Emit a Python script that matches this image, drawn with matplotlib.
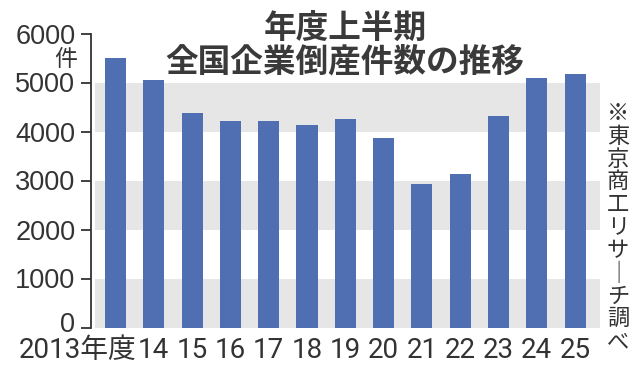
import matplotlib
matplotlib.use("Agg")
import matplotlib.pyplot as plt
import matplotlib.transforms as mtrans
from matplotlib import font_manager

years = ["2013年度", "14", "15", "16", "17", "18", "19", "20", "21", "22", "23", "24", "25"]
counts = [5505, 5050, 4386, 4215, 4221, 4124, 4256, 3858, 2937, 3141, 4324, 5095, 5172]
yticks = [0, 1000, 2000, 3000, 4000, 5000, 6000]
band_ranges = [(0, 1000), (2000, 3000), (4000, 5000)]
title_lines = ["年度上半期", "全国企業倒産件数の推移"]
unit_label = "件"
source_chars = ["※", "東", "京", "商", "工", "リ", "サ", "｜", "チ", "調", "べ"]

CJK = "Noto Sans CJK JP"

def has_font(name):
    try:
        font_manager.findfont(font_manager.FontProperties(family=name), fallback_to_default=False)
        return True
    except Exception:
        return False

narrow = "Liberation Sans Narrow" if has_font("Liberation Sans Narrow") else "Roboto"

W, H = 640, 376
fig = plt.figure(figsize=(W / 100, H / 100), dpi=100)
fig.patch.set_facecolor("white")

def fx(px):
    return px / W

def fy(py):
    return 1 - py / H

ax = fig.add_axes([fx(95), fy(327.5), fx(600) - fx(95), fy(33.5) - fy(327.5)])
ax.set_facecolor("white")

TXT = "#333333"
BLUE = "#4F6FB2"
GRAY = "#E6E6E6"

for lo, hi in band_ranges:
    ax.axhspan(lo, hi, color=GRAY, zorder=0, lw=0)

xs = list(range(len(counts)))
ax.bar(xs, counts, width=0.55, color=BLUE, zorder=2)

ax.set_xlim(-0.535, 12.65)
ax.set_ylim(0, 6000)

for s in ["top", "right", "bottom"]:
    ax.spines[s].set_visible(False)
ax.spines["left"].set_position(("outward", 3))
ax.spines["left"].set_color(TXT)
ax.spines["left"].set_linewidth(1.3)

ax.set_yticks(yticks)
ax.set_yticklabels([str(v) for v in yticks], fontfamily="Liberation Sans", fontsize=19.5, color=TXT)
ax.tick_params(axis="y", length=7.2, width=1.3, color=TXT, pad=4)
ax.set_xticks([])

# raise the "0" label slightly, as in the reference
zero_lab = ax.get_yticklabels()[0]
zero_lab.set_transform(zero_lab.get_transform() +
                       mtrans.ScaledTranslation(0, 5 / 100, fig.dpi_scale_trans))

# x labels
trans = mtrans.blended_transform_factory(ax.transData, fig.transFigure)
for i, lab in enumerate(years):
    if i == 0:
        ax.text(i + 0.56, fy(351), lab, transform=trans, ha="right", va="center",
                fontsize=20, color=TXT, family=[narrow, CJK])
    else:
        ax.text(i, fy(351), lab, transform=trans, ha="center", va="center",
                fontsize=20, color=TXT, family=[narrow, CJK])

# unit
fig.text(fx(66), fy(59), unit_label, ha="center", va="center", fontsize=16.5,
         color=TXT, family=[CJK])

# title
fig.text(fx(345), fy(29), title_lines[0], ha="center", va="center", fontsize=23.5,
         fontweight="bold", color="#3a3a3a", family=[CJK])
fig.text(fx(345), fy(62), title_lines[1], ha="center", va="center", fontsize=23.5,
         fontweight="bold", color="#3a3a3a", family=[CJK])

# vertical source text
for i, ch in enumerate(source_chars):
    fig.text(fx(618), fy(113.5 + i * 22.8), ch, ha="center", va="center", fontsize=16,
             color=TXT, family=[CJK])

fig.savefig("out.png", dpi=100)
